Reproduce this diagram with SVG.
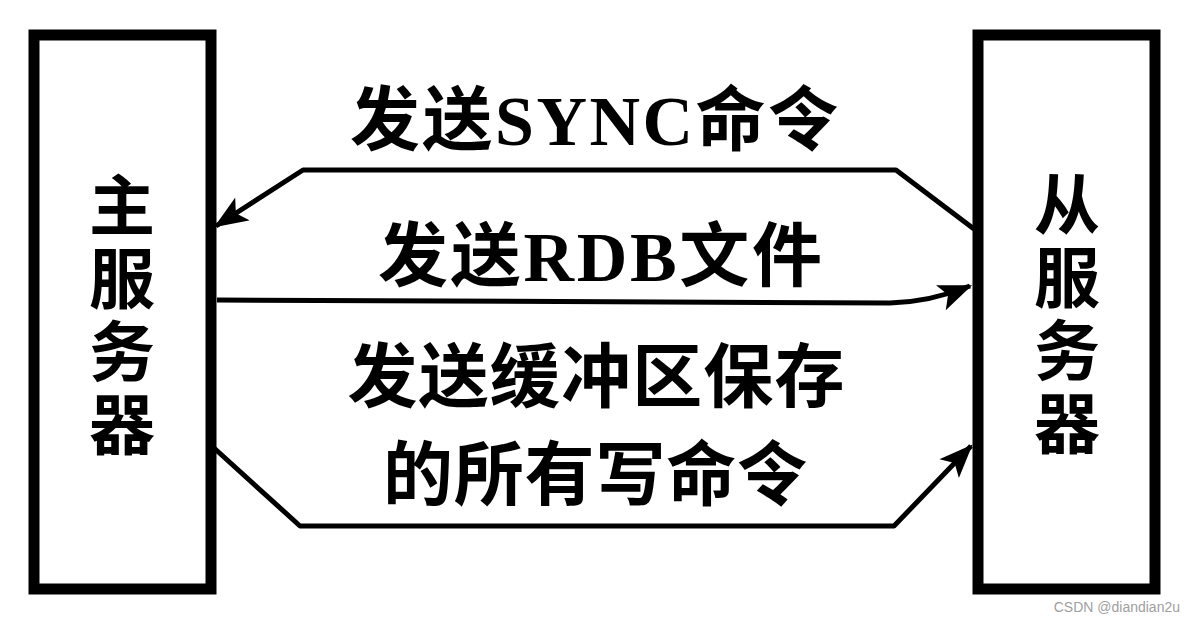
<svg xmlns="http://www.w3.org/2000/svg" width="1194" height="620" viewBox="0 0 1194 620">
<defs>
<style>
.box{fill:#fff;stroke:#000;stroke-width:11}
.conn{fill:none;stroke:#000;stroke-width:5;stroke-linejoin:round}
.lbl{font-family:"Liberation Serif","Noto Sans CJK SC",serif;font-weight:bold;font-size:70px;fill:#000;text-anchor:middle}
.node{font-family:"Noto Sans CJK SC",sans-serif;font-weight:bold;font-size:66px;fill:#000;writing-mode:vertical-rl;letter-spacing:7px}
.wm{font-family:"Liberation Sans",Arial,sans-serif;font-size:14px;fill:#a0a0a0;text-anchor:end}
</style>
<marker id="ahb" viewBox="0 0 30 24" refX="28" refY="12" markerWidth="34" markerHeight="27" orient="auto" markerUnits="userSpaceOnUse">
<path d="M0,0 L30,12 L0,24 L7,12 Z" fill="#000"/>
</marker>
</defs>
<rect width="1194" height="620" fill="#fff"/>
<g id="master">
<rect class="box" x="34" y="35" width="177" height="554"/>
<text class="node" x="122" y="172">主服务器</text>
</g>
<g id="slave">
<rect class="box" x="978" y="35" width="177" height="554"/>
<text class="node" x="1067" y="171">从服务器</text>
</g>
<g id="connectors">
<path class="conn" d="M974,229 L896,170 L303,170 L216,226" marker-end="url(#ahb)"/>
<path class="conn" d="M217,300 L890,303 Q930,302 970,286" marker-end="url(#ahb)"/>
<path class="conn" d="M214,448 L300,526 L894,526 L971,446" marker-end="url(#ahb)"/>
</g>
<g id="labels">
<text class="lbl" x="594" y="145" textLength="488">发送SYNC命令</text>
<text class="lbl" x="600" y="281" textLength="444">发送RDB文件</text>
<text class="lbl" x="596" y="402" textLength="497">发送缓冲区保存</text>
<text class="lbl" x="595" y="500" textLength="424">的所有写命令</text>
</g>
<text class="wm" x="1180" y="612">CSDN @diandian2u</text>
</svg>
